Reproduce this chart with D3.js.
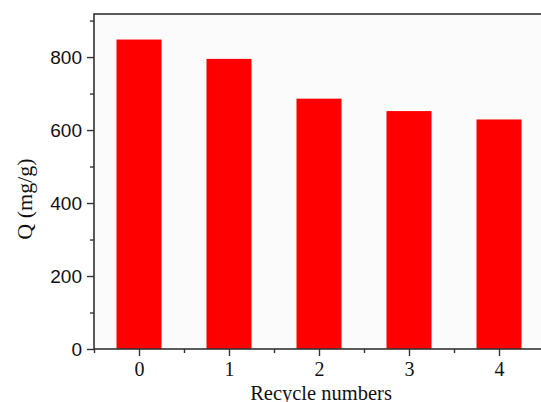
<!DOCTYPE html>
<html>
<head>
<meta charset="utf-8">
<script src="https://cdn.jsdelivr.net/npm/d3@7"></script>
<style>
  body { margin: 0; background: #fff; }
  svg { display: block; overflow: hidden; }
</style>
</head>
<body>
<svg id="chart" width="541" height="402"></svg>
<script>
// values
var cycles = [0, 1, 2, 3, 4];
var capacity = [848, 795, 686, 652, 629];
var yMajor = [0, 200, 400, 600, 800];
var yMinor = [100, 300, 500, 700, 900];
var xMinor = [-0.5, 0.5, 1.5, 2.5, 3.5];

var svg = d3.select("#chart");
var plotLeft = 94, plotRight = 544, plotTop = 14, plotBottom = 349;

var x = d3.scaleLinear().domain([-0.5, 4.5]).range([plotLeft, plotRight]);
var y = d3.scaleLinear().domain([0, 918]).range([plotBottom, plotTop]);

// plot background
svg.append("rect")
  .attr("x", plotLeft).attr("y", plotTop)
  .attr("width", plotRight - plotLeft).attr("height", plotBottom - plotTop)
  .attr("fill", "#fbfbfb");

// bars, half a unit wide
svg.selectAll(".bar")
  .data(cycles)
  .enter()
  .append("rect")
  .attr("class", "bar")
  .attr("x", function (d) { return x(d - 0.25); })
  .attr("width", function (d) { return x(d + 0.25) - x(d - 0.25); })
  .attr("y", function (d, i) { return y(capacity[i]); })
  .attr("height", function (d, i) { return y(0) - y(capacity[i]); })
  .attr("fill", "#ff0000");

// frame
svg.append("rect")
  .attr("x", plotLeft).attr("y", plotTop)
  .attr("width", plotRight - plotLeft).attr("height", plotBottom - plotTop)
  .attr("fill", "none")
  .attr("stroke", "#333")
  .attr("stroke-width", 1.6);

// y axis
var yAxis = svg.append("g")
  .attr("transform", "translate(" + plotLeft + ",0)")
  .call(d3.axisLeft(y).tickValues(yMajor).tickSize(7).tickPadding(5));
svg.append("g")
  .attr("transform", "translate(" + plotLeft + ",0)")
  .call(d3.axisLeft(y).tickValues(yMinor).tickSize(4).tickFormat(""));

// x axis
var xAxis = svg.append("g")
  .attr("transform", "translate(0," + plotBottom + ")")
  .call(d3.axisBottom(x).tickValues(cycles).tickSize(7).tickPadding(6).tickFormat(d3.format("d")));
svg.append("g")
  .attr("transform", "translate(0," + plotBottom + ")")
  .call(d3.axisBottom(x).tickValues(xMinor).tickSize(4).tickFormat(""));

svg.selectAll(".domain").remove();
svg.selectAll(".tick line").attr("stroke", "#333").attr("stroke-width", 1.4);

yAxis.selectAll("text")
  .attr("font-family", "Liberation Sans, Arial, sans-serif")
  .attr("font-size", 19)
  .attr("fill", "#111");

xAxis.selectAll("text")
  .attr("font-family", "Liberation Serif, Times New Roman, serif")
  .attr("font-size", 20)
  .attr("fill", "#111");

// axis titles
svg.append("text")
  .attr("x", 321).attr("y", 400)
  .attr("text-anchor", "middle")
  .attr("font-family", "Liberation Serif, Times New Roman, serif")
  .attr("font-size", 20.5)
  .attr("fill", "#111")
  .text("Recycle numbers");

svg.append("text")
  .attr("transform", "translate(32,199) rotate(-90)")
  .attr("text-anchor", "middle")
  .attr("font-family", "Liberation Serif, Times New Roman, serif")
  .attr("font-size", 22)
  .attr("fill", "#111")
  .text("Q (mg/g)");
</script>
</body>
</html>
